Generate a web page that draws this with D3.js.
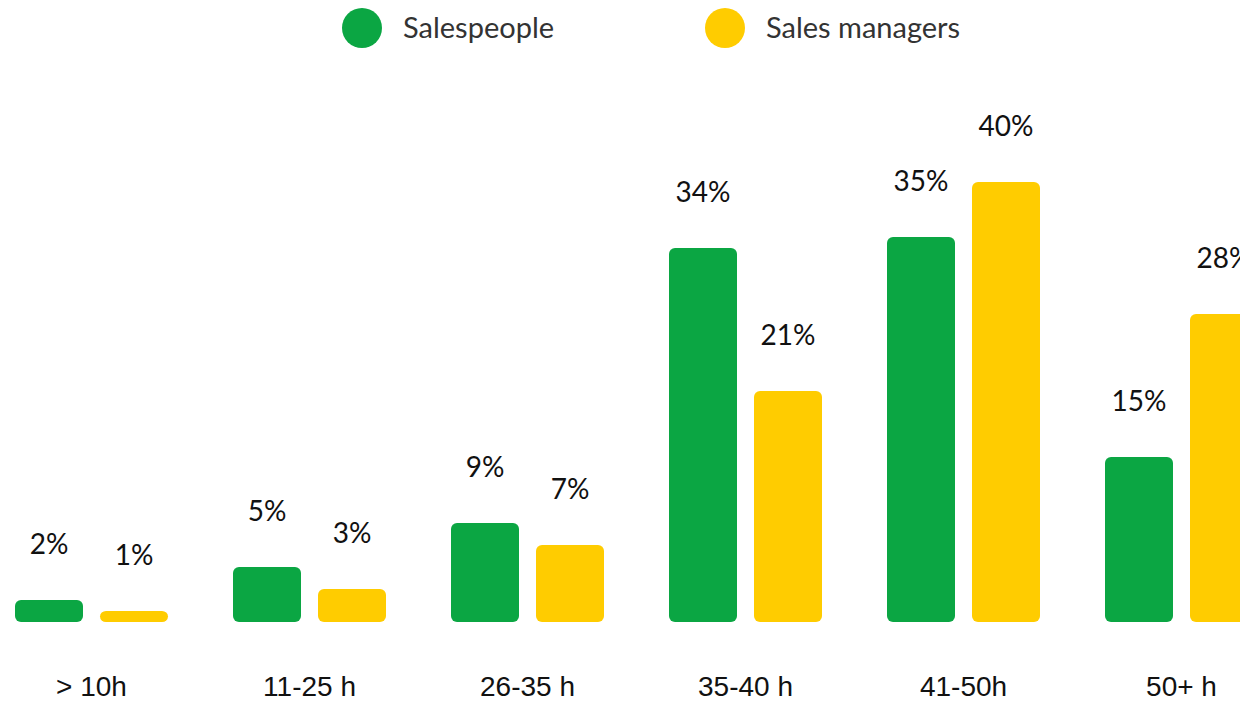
<!DOCTYPE html>
<html>
<head>
<meta charset="utf-8">
<script src="https://cdn.jsdelivr.net/npm/d3@7"></script>
<style>
  html, body { margin: 0; padding: 0; background: #fff; }
  svg { display: block; font-family: "Source Sans Pro", Lato, "Noto Sans", sans-serif; }
</style>
</head>
<body>
<svg id="chart" width="1240" height="702"></svg>
<script>
// data
const categories = ['> 10h', '11-25 h', '26-35 h', '35-40 h', '41-50h', '50+ h'];
const seriesNames = ['Salespeople', 'Sales managers'];
const salespeople = [2, 5, 9, 34, 35, 15];
const salesManagers = [1, 3, 7, 21, 40, 28];
const colors = ['#0ba643', '#ffcc00'];

const seriesValues = [salespeople, salesManagers];

const svg = d3.select('#chart');

// scales
const x0 = d3.scaleBand()
  .domain(categories)
  .range([15, 15 + 218 * 6 - 65])
  .paddingInner(65 / 218)
  .paddingOuter(0);

const x1 = d3.scaleBand()
  .domain(seriesNames)
  .range([0, x0.bandwidth()])
  .paddingInner(17 / 85);

const y = d3.scaleLinear().domain([0, 40]).range([622, 182]);

// bars
const groups = svg.append('g').selectAll('g')
  .data(categories)
  .join('g')
  .attr('transform', d => `translate(${x0(d)},0)`);

const cells = groups.selectAll('g.cell')
  .data((d, i) => seriesNames.map((s, j) => ({ series: s, j, value: seriesValues[j][i] })))
  .join('g')
  .attr('class', 'cell');

cells.append('rect')
  .attr('x', d => x1(d.series))
  .attr('y', d => y(d.value))
  .attr('width', x1.bandwidth())
  .attr('height', d => y(0) - y(d.value))
  .attr('rx', 6)
  .attr('fill', d => colors[d.j]);

cells.append('text')
  .attr('x', d => x1(d.series) + x1.bandwidth() / 2)
  .attr('y', d => y(d.value) - 46)
  .attr('text-anchor', 'middle')
  .attr('font-size', 28)
  .attr('fill', '#111')
  .text(d => d.value + '%');

// category labels via a bottom axis without lines
const xAxis = svg.append('g')
  .attr('transform', 'translate(0,670)')
  .call(d3.axisBottom(x0).tickSize(0).tickPadding(0));
xAxis.select('.domain').remove();
xAxis.selectAll('text')
  .attr('dy', null)
  .attr('y', 26)
  .attr('font-size', 28)
  .attr('font-family', null)
  .attr('fill', '#111');

// legend
const legendX = [362, 725];
const legend = svg.append('g').selectAll('g')
  .data(seriesNames)
  .join('g')
  .attr('transform', (d, i) => `translate(${legendX[i]},28)`);
legend.append('circle').attr('r', 20).attr('fill', (d, i) => colors[i]);
legend.append('text')
  .attr('x', 41)
  .attr('y', 10)
  .attr('font-size', 29)
  .attr('fill', '#333')
  .text(d => d);
</script>
</body>
</html>
